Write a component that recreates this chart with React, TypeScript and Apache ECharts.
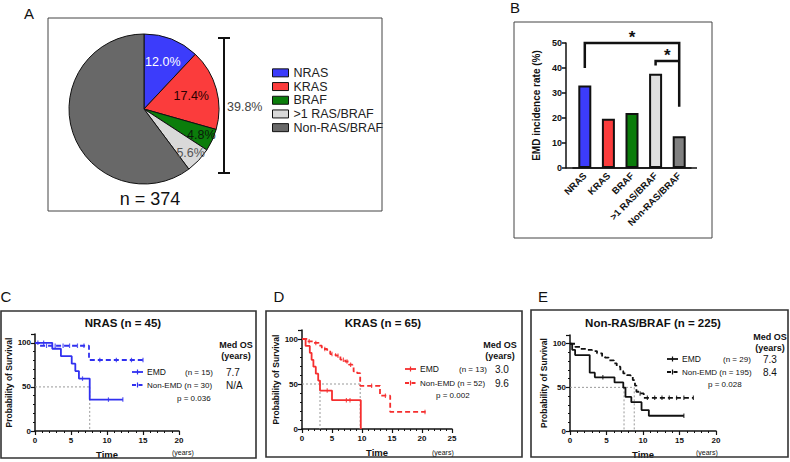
import React, { useEffect, useRef } from "react";
import * as echarts from "echarts";

// ---------- Panel A data ----------
const pieCategories = ["NRAS", "KRAS", "BRAF", ">1 RAS/BRAF", "Non-RAS/BRAF"];
const piePercents = [12.0, 17.4, 4.8, 5.6, 60.2];
const pieLabels = ["12.0%", "17.4%", "4.8%", "5.6%", ""];
const mutatedTotalLabel = "39.8%";
const cohortLabel = "n = 374";

// ---------- Panel B data ----------
const barCategories = ["NRAS", "KRAS", "BRAF", ">1 RAS/BRAF", "Non-RAS/BRAF"];
const emdRates = [33.0, 19.7, 22.0, 37.7, 12.7];
const barYTicks = [0, 10, 20, 30, 40, 50];
// significance brackets: [fromIndex, toIndex, fromLegValue, barValue, toLegValue]
const sigBrackets = [
  [0, 4, 40, 50, 24.5],
  [3, 4, 41, 42.8, 42.8],
];
// stars: [leftIndex, rightIndex, value] (placed midway between the two categories)
const sigStars = [
  [0, 4, 53.5],
  [3, 4, 46.3],
];

// ---------- Panels C-E data (Kaplan-Meier) ----------
const nrasEmd = [[0, 100], [2.4, 93.3], [3.6, 84.8], [5.1, 76.3], [5.6, 67.9], [6.1, 59.4], [7.6, 35.6], [12.2, 35.6]];
const nrasNonEmd = [[0, 100], [0.7, 96.7], [7.5, 80.5], [15.0, 80.5]];
const nrasEmdCensor = [[0.4, 100], [1.2, 100], [6.6, 59.4], [10.2, 35.6], [12.2, 35.6]];
const nrasNonCensor = [[1.6, 96.7], [2.8, 96.7], [3.9, 96.7], [4.8, 96.7], [5.9, 96.7], [6.8, 96.7], [9.0, 80.5], [11.3, 80.5], [13.4, 80.5], [15.0, 80.5]];
const nrasMedians = [7.6];

const krasEmd = [[0, 100], [0.6, 92.3], [1.3, 84.6], [1.6, 76.9], [1.9, 69.2], [2.3, 61.5], [2.7, 53.8], [3.0, 42.7], [5.0, 32.0], [9.8, 0], [9.8, 0]];
const krasNonEmd = [[0, 100], [0.8, 97.4], [1.9, 95.6], [2.8, 92.6], [3.3, 88.9], [4.2, 86.3], [4.7, 83.3], [5.6, 81.5], [6.4, 77.0], [7.2, 75.0], [7.8, 71.5], [8.4, 69.0], [8.6, 64.0], [9.2, 62.0], [9.7, 48.0], [13.0, 37.0], [14.7, 19.0], [20.6, 19.0]];
const krasEmdCensor = [[4.2, 42.7], [7.4, 32.0], [8.0, 32.0]];
const krasNonCensor = [[1.2, 97.4], [2.3, 95.6], [3.8, 88.9], [5.0, 83.3], [6.0, 81.5], [6.9, 77.0], [7.5, 75.0], [8.1, 71.5], [11.6, 48.0], [13.9, 37.0], [20.5, 19.0]];
const krasMedians = [3.0, 9.7];

const nonEmd = [[0, 100], [0.3, 93.0], [0.7, 87.0], [2.7, 66.8], [3.4, 61.5], [6.1, 55.7], [7.3, 49.6], [7.6, 39.0], [8.4, 33.0], [9.8, 24.0], [10.8, 17.5], [15.6, 17.5]];
const nonNonEmd = [[0, 100], [0.7, 96.5], [1.4, 94.0], [2.3, 93.0], [3.0, 91.6], [3.7, 89.0], [4.4, 85.0], [4.8, 84.0], [5.3, 81.0], [6.0, 77.5], [6.4, 73.7], [6.9, 68.7], [7.3, 66.0], [7.8, 64.0], [8.3, 62.0], [8.6, 58.4], [8.9, 52.0], [9.1, 45.0], [9.5, 43.0], [10.1, 38.0], [16.9, 38.0]];
const nonEmdCensor = [[4.5, 61.5], [15.6, 17.5]];
const nonNonCensor = [[9.6, 43.0], [10.6, 38.0], [11.6, 38.0], [12.6, 38.0], [13.6, 38.0], [14.6, 38.0], [15.6, 38.0], [16.9, 38.0]];
const nonMedians = [7.4, 8.8];

const kmTitles = ["NRAS (n = 45)", "KRAS (n = 65)", "Non-RAS/BRAF (n = 225)"];
const kmXMax = [20, 25, 20];
const kmEmdN = ["(n = 15)", "(n = 13)", "(n = 29)"];
const kmNonN = ["(n = 30)", "(n = 52)", "(n = 195)"];
const kmEmdMedOS = ["7.7", "3.0", "7.3"];
const kmNonMedOS = ["N/A", "9.6", "8.4"];
const kmPValues = ["p = 0.036", "p = 0.002", "p = 0.028"];

const FONT = "Liberation Sans, Arial, Helvetica, sans-serif";

export default function App() {
  const ref = useRef<HTMLDivElement>(null);

  useEffect(() => {
    const chart = echarts.init(ref.current!, null, { renderer: "svg" });

    const pieColors = ["#3c3cfb", "#fb3c3c", "#0b7d0b", "#d9d9d9", "#686868"];
    const barColors = ["#3c3cfb", "#fb3c3c", "#0b7d0b", "#e0e0e0", "#808080"];
    const pieCenter = [144, 109];
    const pieR = 75;

    // KM layout
    const kmLayout = [
      { left: 35, top: 334, width: 144, height: 97, box: [1, 311, 255, 147], color: "#3030f0", titleX: 123, leg: { mx: 132, tx: 147, nx: 185, vx: 226, y1: 372, y2: 385, px: 177, py: 398, ox: 236, oy: 345 }, years: 172, label: [6, 296] },
      { left: 302, top: 330, width: 150, height: 99, box: [266, 311, 256, 146], color: "#f52e2e", titleX: 383, leg: { mx: 405, tx: 420, nx: 459, vx: 495, y1: 369, y2: 383, px: 436, py: 395, ox: 500, oy: 345 }, years: 432, label: [279, 296] },
      { left: 570, top: 335, width: 146, height: 96, box: [531, 310, 257, 147], color: "#111111", titleX: 653, leg: { mx: 667, tx: 682, nx: 723, vx: 763, y1: 359, y2: 372, px: 708, py: 384, ox: 770, oy: 337 }, years: 696, label: [543, 296] },
    ];
    const kmEmd = [nrasEmd, krasEmd, nonEmd];
    const kmNon = [nrasNonEmd, krasNonEmd, nonNonEmd];
    const kmEmdC = [nrasEmdCensor, krasEmdCensor, nonEmdCensor];
    const kmNonC = [nrasNonCensor, krasNonCensor, nonNonCensor];
    const kmMed = [nrasMedians, krasMedians, nonMedians];

    const grids: any[] = [{ left: 573, top: 43, width: 118, height: 125 }];
    const xAxes: any[] = [
      {
        type: "category",
        gridIndex: 0,
        data: barCategories,
        axisLine: { lineStyle: { color: "#111", width: 1.5 } },
        axisTick: { alignWithLabel: true, length: 4, lineStyle: { color: "#111", width: 1.5 } },
        axisLabel: { rotate: 45, interval: 0, fontSize: 9.5, fontWeight: "bold", color: "#111", fontFamily: FONT, margin: 6 },
      },
    ];
    const yAxes: any[] = [
      {
        type: "value",
        gridIndex: 0,
        min: barYTicks[0],
        max: barYTicks[barYTicks.length - 1],
        interval: barYTicks[1] - barYTicks[0],
        offset: 7,
        splitLine: { show: false },
        axisLine: { show: true, lineStyle: { color: "#111", width: 1.5 } },
        axisTick: { show: true, length: 4, lineStyle: { color: "#111", width: 1.5 } },
        axisLabel: { fontSize: 9, fontWeight: "bold", color: "#111", fontFamily: FONT, margin: 4 },
        name: "EMD incidence rate (%)",
        nameLocation: "middle",
        nameGap: 25,
        nameTextStyle: { fontSize: 10, fontWeight: "bold", color: "#111", fontFamily: FONT },
      },
    ];

    const series: any[] = [
      {
        type: "pie",
        center: pieCenter,
        radius: pieR,
        startAngle: 90,
        clockwise: true,
        label: { show: false },
        labelLine: { show: false },
        emphasis: { disabled: true },
        itemStyle: { borderColor: "#111", borderWidth: 1 },
        data: pieCategories.map((c, i) => ({ name: c, value: piePercents[i], itemStyle: { color: pieColors[i] } })),
      },
      {
        type: "bar",
        name: "EMD incidence",
        xAxisIndex: 0,
        yAxisIndex: 0,
        barWidth: 13,
        data: emdRates.map((v, i) => ({ value: v, itemStyle: { color: barColors[i], borderColor: "#111", borderWidth: 2 } })),
      },
    ];

    kmLayout.forEach((L, k) => {
      const gi = k + 1;
      grids.push({ left: L.left, top: L.top, width: L.width, height: L.height });
      xAxes.push({
        type: "value",
        gridIndex: gi,
        min: 0,
        max: kmXMax[k],
        interval: 5,
        splitLine: { show: false },
        axisLine: { onZero: false, lineStyle: { color: "#111", width: 1.5 } },
        axisTick: { show: true, length: 4, lineStyle: { color: "#111", width: 1.2 } },
        minorTick: { show: true, splitNumber: 5, length: 2, lineStyle: { color: "#111", width: 1 } },
        axisLabel: { fontSize: 8, fontWeight: "bold", color: "#111", fontFamily: FONT, margin: 5 },
        name: "Time",
        nameLocation: "middle",
        nameGap: 18,
        nameTextStyle: { fontSize: 9.5, fontWeight: "bold", color: "#111", fontFamily: FONT },
      });
      yAxes.push({
        type: "value",
        gridIndex: gi,
        min: 0,
        max: 110,
        interval: 50,
        splitLine: { show: false },
        axisLine: { show: true, onZero: false, lineStyle: { color: "#111", width: 1.5 } },
        axisTick: { show: true, length: 4, lineStyle: { color: "#111", width: 1.2 } },
        minorTick: { show: true, splitNumber: 5, length: 2, lineStyle: { color: "#111", width: 1 } },
        axisLabel: { fontSize: 8, fontWeight: "bold", color: "#111", fontFamily: FONT, margin: 4, showMaxLabel: false },
        name: "Probability of Survival",
        nameLocation: "middle",
        nameGap: 21,
        nameTextStyle: { fontSize: 8.5, fontWeight: "bold", color: "#111", fontFamily: FONT },
      });
      const meds = kmMed[k];
      const maxMed = Math.max(...meds);
      series.push({
        type: "line", xAxisIndex: gi, yAxisIndex: gi, symbol: "none", silent: true,
        lineStyle: { color: "#999", width: 1, type: [2, 2] },
        data: [[0, 50], [maxMed, 50]],
      });
      meds.forEach((m) => {
        series.push({
          type: "line", xAxisIndex: gi, yAxisIndex: gi, symbol: "none", silent: true,
          lineStyle: { color: "#999", width: 1, type: [2, 2] },
          data: [[m, 50], [m, 0]],
        });
      });
      series.push({
        type: "line", name: "EMD-" + k, xAxisIndex: gi, yAxisIndex: gi, step: "end", symbol: "none",
        lineStyle: { color: L.color, width: 1.8 }, data: kmEmd[k],
      });
      series.push({
        type: "line", name: "NonEMD-" + k, xAxisIndex: gi, yAxisIndex: gi, step: "end", symbol: "none",
        lineStyle: { color: L.color, width: 1.8, type: [5, 3] }, data: kmNon[k],
      });
      series.push({
        type: "scatter", xAxisIndex: gi, yAxisIndex: gi, symbol: "rect", symbolSize: [1.2, 4.5],
        itemStyle: { color: L.color }, data: [...kmEmdC[k], ...kmNonC[k]], silent: true,
      });
    });

    chart.setOption({
      animation: false,
      textStyle: { fontFamily: FONT },
      legend: [
        {
          data: pieCategories,
          orient: "vertical",
          left: 267,
          top: 61,
          icon: "rect",
          itemWidth: 16,
          itemHeight: 8,
          itemGap: 0,
          itemStyle: { borderColor: "#111", borderWidth: 1 },
          textStyle: { fontSize: 12.5, color: "#222", fontFamily: FONT, lineHeight: 13.7 },
          selectedMode: false,
        },
      ],
      grid: grids,
      xAxis: xAxes,
      yAxis: yAxes,
      series,
    });

    // ---- graphic overlays ----
    const g: any[] = [];
    const txt = (x: number, y: number, text: string, o: any = {}) =>
      g.push({
        type: "text",
        x, y, z: 100,
        silent: true,
        style: { text, fontFamily: FONT, fontSize: 11, fill: "#111", align: "left", verticalAlign: "middle", ...o },
      });
    const line = (x1: number, y1: number, x2: number, y2: number, o: any = {}) =>
      g.push({ type: "line", z: 100, silent: true, shape: { x1, y1, x2, y2 }, style: { stroke: "#111", lineWidth: 2, ...o } });

    // Panel boxes
    g.push({ type: "rect", z: 100, silent: true, shape: { x: 48, y: 18, width: 334, height: 193 }, style: { fill: "none", stroke: "#444", lineWidth: 1 } });
    g.push({ type: "rect", z: 100, silent: true, shape: { x: 514, y: 22, width: 198, height: 216 }, style: { fill: "none", stroke: "#444", lineWidth: 1 } });
    kmLayout.forEach((L) => {
      g.push({ type: "rect", z: 100, silent: true, shape: { x: L.box[0], y: L.box[1], width: L.box[2], height: L.box[3] }, style: { fill: "none", stroke: "#333", lineWidth: 1.6 } });
    });

    // Panel letters
    txt(29, 13, "A", { fontSize: 15, align: "center" });
    txt(515, 7, "B", { fontSize: 15, align: "center" });
    const letters = ["C", "D", "E"];
    kmLayout.forEach((L, k) => txt(L.label[0], L.label[1], letters[k], { fontSize: 15, align: "center" }));

    // Pie labels
    const labelRadius = [51, 49, 63, 64, 0];
    const labelColors = ["#ffffff", "#2a0000", "#0a1a0a", "#555555", "#000"];
    let cum = 0;
    piePercents.forEach((p, i) => {
      const mid = cum + p / 2;
      cum += p;
      if (!pieLabels[i]) return;
      const ang = ((90 - mid * 3.6) * Math.PI) / 180;
      txt(pieCenter[0] + labelRadius[i] * Math.cos(ang), pieCenter[1] - labelRadius[i] * Math.sin(ang), pieLabels[i], {
        fontSize: 12.5, align: "center", fill: labelColors[i],
      });
    });
    // mutated bracket
    line(224, 38, 224, 173, { lineWidth: 2 });
    line(218, 38, 230, 38, { lineWidth: 2 });
    line(218, 173, 230, 173, { lineWidth: 2 });
    txt(227, 107, mutatedTotalLabel, { fontSize: 12.5, fill: "#444" });
    txt(150, 199, cohortLabel, { fontSize: 18, align: "center", fill: "#111" });

    // Panel B: extend x axis line to the offset y axis (GraphPad style)
    const px = (i: number, v: number) => chart.convertToPixel({ gridIndex: 0 } as any, [i, v]) as number[];
    const base0 = px(0, 0);
    line(566, base0[1], 697, base0[1], { lineWidth: 1.5 });

    // Panel B significance brackets
    sigBrackets.forEach((b) => {
      const a1 = px(b[0], b[2]);
      const a2 = px(b[0], b[3]);
      const a3 = px(b[1], b[3]);
      const a4 = px(b[1], b[4]);
      g.push({
        type: "polyline", z: 100, silent: true,
        shape: { points: [a1, a2, a3, a4] },
        style: { stroke: "#111", lineWidth: 2.5, fill: "none" },
      });
    });
    sigStars.forEach((s) => {
      const p1 = px(s[0], s[2]);
      const p2 = px(s[1], s[2]);
      txt((p1[0] + p2[0]) / 2, p1[1] + 3, "*", { fontSize: 17, fontWeight: "bold", align: "center", fill: "#111" });
    });

    // KM annotations
    kmLayout.forEach((L, k) => {
      const Lg = L.leg;
      txt(L.titleX, 323, kmTitles[k], { fontSize: 11.5, fontWeight: "bold", align: "center" });
      // legend markers
      line(Lg.mx, Lg.y1, Lg.mx + 11, Lg.y1, { stroke: L.color, lineWidth: 1.8 });
      line(Lg.mx + 5.5, Lg.y1 - 2.5, Lg.mx + 5.5, Lg.y1 + 2.5, { stroke: L.color, lineWidth: 1.2 });
      line(Lg.mx, Lg.y2, Lg.mx + 11, Lg.y2, { stroke: L.color, lineWidth: 1.8, lineDash: [4, 2.5] });
      line(Lg.mx + 5.5, Lg.y2 - 2.5, Lg.mx + 5.5, Lg.y2 + 2.5, { stroke: L.color, lineWidth: 1.2 });
      txt(Lg.tx, Lg.y1, "EMD", { fontSize: 8.5, fill: "#111" });
      txt(Lg.nx, Lg.y1, kmEmdN[k], { fontSize: 8, fill: "#111" });
      txt(Lg.tx, Lg.y2, "Non-EMD " + kmNonN[k], { fontSize: 8, fill: "#111" });
      txt(Lg.vx, Lg.y1, kmEmdMedOS[k], { fontSize: 10 });
      txt(Lg.vx, Lg.y2, kmNonMedOS[k], { fontSize: 10 });
      txt(Lg.px, Lg.py, kmPValues[k], { fontSize: 8 });
      txt(Lg.ox, Lg.oy, "Med OS", { fontSize: 9, fontWeight: "bold", align: "center" });
      txt(Lg.ox, Lg.oy + 11, "(years)", { fontSize: 9, fontWeight: "bold", align: "center" });
      txt(L.years, 452, "(years)", { fontSize: 7 });
    });

    chart.setOption({ graphic: g });

    return () => chart.dispose();
  }, []);

  return <div ref={ref} style={{ position: "absolute", left: 0, top: 0, width: 790, height: 462, background: "#fff" }} />;
}
